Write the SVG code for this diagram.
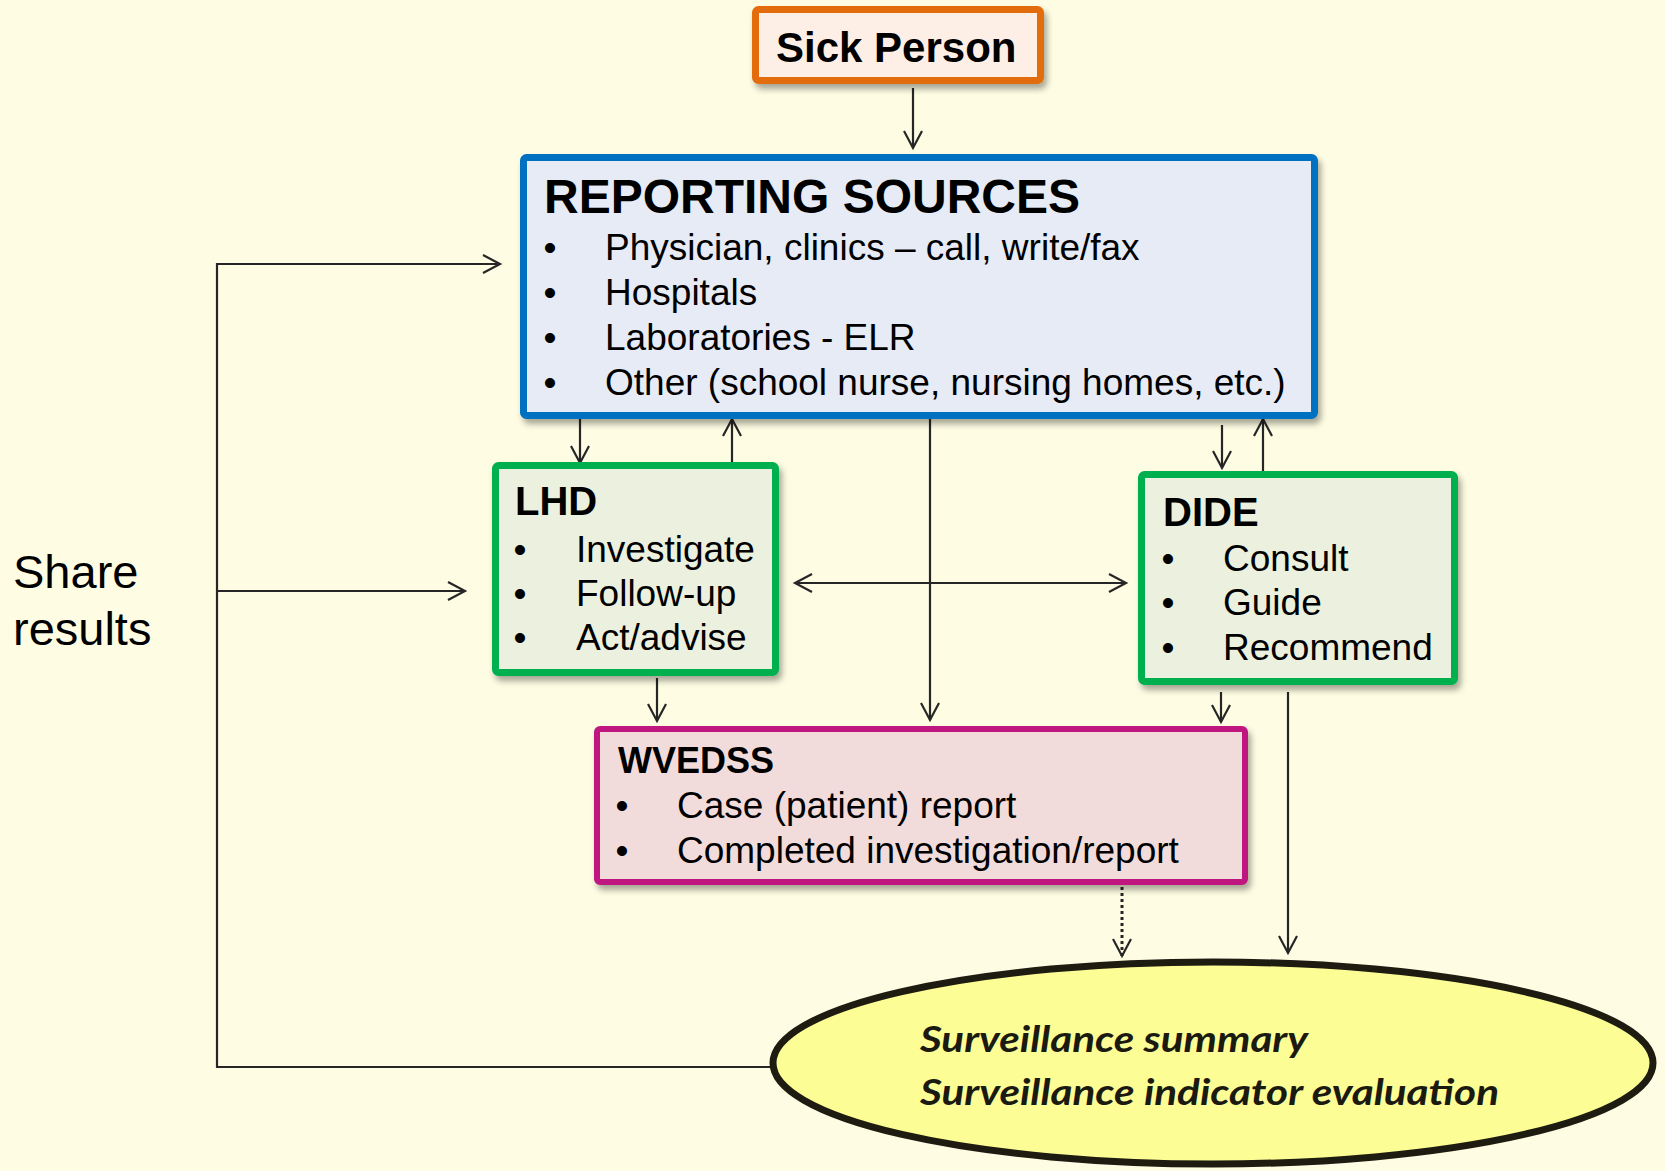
<svg xmlns="http://www.w3.org/2000/svg" width="1665" height="1171" viewBox="0 0 1665 1171">
  <style>
    .box { stroke-width: 7; filter: url(#shadow); }
    .title { font-family: "Liberation Sans", Arial, sans-serif; font-weight: bold; fill: #000; }
    .item { font-family: "Liberation Sans", Arial, sans-serif; font-size: 37px; fill: #000; }
    .link { fill: none; stroke: #262626; stroke-width: 2.2; }
    .arrow { marker-end: url(#head); }
    .dotted { stroke-dasharray: 3 3; stroke-width: 3; }
    .oval { font-family: Lato, "Open Sans", sans-serif; font-weight: bold; font-style: italic; font-size: 37px; fill: #1a1a10; }
  </style>
  <defs>
    <filter id="shadow" x="-10%" y="-10%" width="125%" height="130%">
      <feDropShadow dx="3" dy="5" stdDeviation="3" flood-color="#000" flood-opacity="0.35"/>
    </filter>
    <marker id="head" viewBox="-20 -12 24 24" refX="0" refY="0" markerWidth="24" markerHeight="24" markerUnits="userSpaceOnUse" orient="auto-start-reverse">
      <path d="M-17,-9 L0,0 L-17,9" fill="none" stroke="#262626" stroke-width="2.2"/>
    </marker>
  </defs>

  <!-- page background -->
  <rect x="0" y="0" width="1665" height="1171" fill="#fefde3"/>

  <!-- connectors -->
  <g id="connectors">
    <path class="link arrow" d="M913,88 V148"/>
    <path class="link arrow" d="M580,419 V463"/>
    <path class="link arrow" d="M732,466 V419"/>
    <path class="link arrow" d="M930,419 V720"/>
    <path class="link arrow" d="M1222,425 V468"/>
    <path class="link arrow" d="M1263,471 V419"/>
    <path class="link arrow" d="M795,583 H1126" marker-start="url(#head)"/>
    <path class="link arrow" d="M657,678 V721"/>
    <path class="link arrow" d="M1221,692 V722"/>
    <path class="link arrow" d="M1288,692 V953"/>
    <path class="link arrow dotted" d="M1122,887 V956"/>
    <path class="link arrow" d="M770,1067 H217 V264 H500"/>
    <path class="link arrow" d="M217,591 H465"/>
  </g>

  <!-- feedback label -->
  <g id="share-results">
    <text x="13" y="588" font-family="Liberation Sans, Arial, sans-serif" font-size="47" fill="#000">Share</text>
    <text x="13" y="645" font-family="Liberation Sans, Arial, sans-serif" font-size="47" fill="#000">results</text>
  </g>

  <g id="sick-person">
    <rect class="box" x="755.5" y="9.5" width="285" height="71" rx="3" fill="#fdeee6" stroke="#e36c0a"/>
    <text class="title" x="776" y="62" font-size="42">Sick Person</text>
  </g>

  <g id="reporting-sources">
    <rect class="box" x="523.5" y="157.5" width="791" height="258" rx="3" fill="#e6ebf6" stroke="#0070c0"/>
    <text class="title" x="544" y="213" font-size="48">REPORTING SOURCES</text>
    <text class="item" x="543.5" y="260">•</text>
    <text class="item" x="605" y="260">Physician, clinics – call, write/fax</text>
    <text class="item" x="543.5" y="305">•</text>
    <text class="item" x="605" y="305">Hospitals</text>
    <text class="item" x="543.5" y="350">•</text>
    <text class="item" x="605" y="350">Laboratories - ELR</text>
    <text class="item" x="543.5" y="395">•</text>
    <text class="item" x="605" y="395">Other (school nurse, nursing homes, etc.)</text>
  </g>

  <g id="lhd">
    <rect class="box" x="495.5" y="465.5" width="280" height="207" rx="3" fill="#ebf1de" stroke="#00b050"/>
    <text class="title" x="515" y="515" font-size="40">LHD</text>
    <text class="item" x="513.5" y="562">•</text>
    <text class="item" x="576" y="562">Investigate</text>
    <text class="item" x="513.5" y="606">•</text>
    <text class="item" x="576" y="606">Follow-up</text>
    <text class="item" x="513.5" y="650">•</text>
    <text class="item" x="576" y="650">Act/advise</text>
  </g>

  <g id="dide">
    <rect class="box" x="1141.5" y="474.5" width="313" height="207" rx="3" fill="#ebf1de" stroke="#00b050"/>
    <text class="title" x="1163" y="526" font-size="40">DIDE</text>
    <text class="item" x="1161.5" y="571">•</text>
    <text class="item" x="1223" y="571">Consult</text>
    <text class="item" x="1161.5" y="615">•</text>
    <text class="item" x="1223" y="615">Guide</text>
    <text class="item" x="1161.5" y="660">•</text>
    <text class="item" x="1223" y="660">Recommend</text>
  </g>

  <g id="wvedss">
    <rect class="box" x="597" y="729" width="648" height="153" rx="3" fill="#f2dcdb" stroke="#c0187f" style="stroke-width:6"/>
    <text class="title" x="618" y="773" font-size="36">WVEDSS</text>
    <text class="item" x="615.5" y="818">•</text>
    <text class="item" x="677" y="818">Case (patient) report</text>
    <text class="item" x="615.5" y="863">•</text>
    <text class="item" x="677" y="863">Completed investigation/report</text>
  </g>

  <g id="surveillance">
    <ellipse cx="1213" cy="1063" rx="440" ry="101" fill="#fdfd96" stroke="#1e1b10" stroke-width="7"/>
    <text class="oval" x="920" y="1052" textLength="388" lengthAdjust="spacingAndGlyphs">Surveillance summary</text>
    <text class="oval" x="920" y="1105" textLength="579" lengthAdjust="spacingAndGlyphs">Surveillance indicator evaluation</text>
  </g>
</svg>
